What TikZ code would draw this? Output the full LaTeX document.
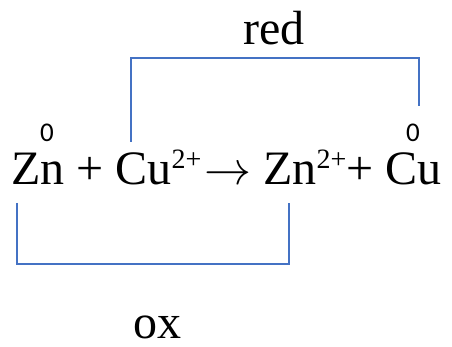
\documentclass[tikz,border=0pt]{standalone}
\usepackage{fontspec}
\setmainfont{Liberation Serif}
\newfontfamily\zerofont{Carlito}
\usepackage{xcolor}
\usetikzlibrary{positioning}
\definecolor{Link}{HTML}{4472C4}
\newcommand{\ioncharge}[1]{\raisebox{16pt}{\fontsize{28}{30}\selectfont #1}}
\newcommand{\reactarrow}{\resizebox{47pt}{!}{$\rightarrow$}}

\begin{document}
\begin{tikzpicture}[
  x=1pt,y=-1pt,
  eqn/.style={inner sep=0pt,font=\fontsize{48}{54}\selectfont},
  word/.style={inner sep=0pt,font=\fontsize{48}{54}\selectfont},
  zero/.style={inner sep=0pt,font=\fontsize{27}{30}\zerofont},
  bracket/.style={draw=Link,line width=1.2pt}
]
\useasboundingbox (0,0) rectangle (452,347);

% equation and oxidation states
\node[eqn,anchor=base west] (eq) at (11,185)
  {Zn + Cu\ioncharge{2+}\kern3pt\reactarrow\ Zn\ioncharge{2+}+ Cu};
\node[zero] (znzero) at (47,133) {0};
\node[zero] (cuzero) at (413,133) {0};

% reduction bracket
\coordinate (redleft) at (131,142);
\coordinate (redright) at (419,106);
\draw[bracket] (redleft) -- (131,58) -| (redright);
\node[word,anchor=base] (redlabel) at (274,45) {red};

% oxidation bracket
\coordinate (oxleft) at (17,203);
\coordinate (oxright) at (289,203);
\draw[bracket] (oxleft) -- (17,264) -| (oxright);
\node[word,anchor=base] (oxlabel) at (157,338) {ox};
\end{tikzpicture}
\end{document}
